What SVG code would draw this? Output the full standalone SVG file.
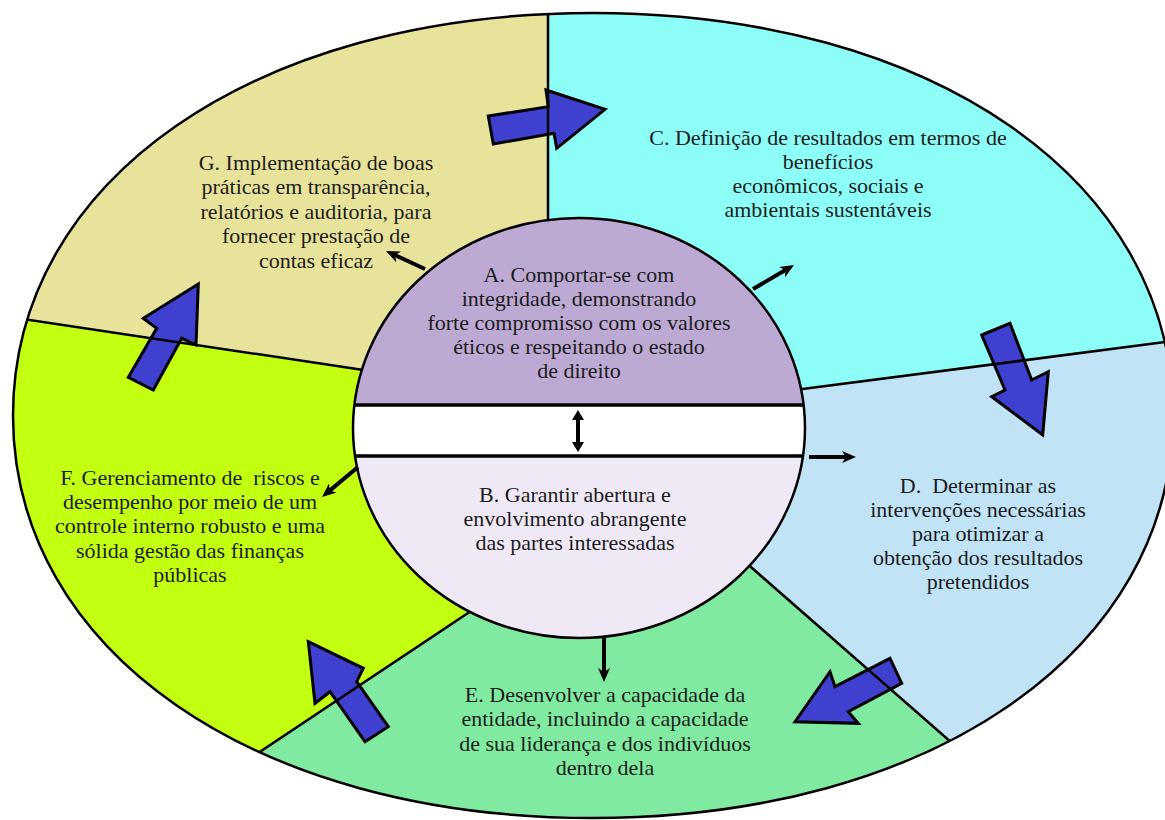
<svg xmlns="http://www.w3.org/2000/svg" width="1165" height="820" viewBox="0 0 1165 820">
<style>
.t{font-family:'Liberation Serif','Tinos','Times New Roman','DejaVu Serif',serif;font-size:22px;fill:#1c1c1c;text-anchor:middle}
.div{stroke:#000;stroke-width:2.5;fill:none}
.blk{fill:#4040d0;stroke:#000;stroke-width:3;stroke-linejoin:miter}
.sm{stroke:#000;stroke-width:4;fill:none}
</style>
<defs>
<clipPath id="outer"><path d="M1173,415.5 C1173,650.6 931.7,818 593,818 C254.3,818 13,650.6 13,415.5 C13,180.4 254.3,13 593,13 C931.7,13 1173,180.4 1173,415.5 Z"/></clipPath>
<clipPath id="inner"><ellipse cx="579" cy="428" rx="226" ry="210"/></clipPath>
<marker id="head" viewBox="0 0 14 12" refX="4" refY="6" markerWidth="14" markerHeight="12" markerUnits="userSpaceOnUse" orient="auto-start-reverse"><path d="M0,0 L14,6 L0,12 L4,6 Z" fill="#000"/></marker>
<marker id="head2" viewBox="0 0 12 12" refX="3" refY="6" markerWidth="12" markerHeight="12" markerUnits="userSpaceOnUse" orient="auto-start-reverse"><path d="M0,0 L10,6 L0,12 Z" fill="#000"/></marker>
</defs>
<rect width="1165" height="820" fill="#fff"/>
<g clip-path="url(#outer)">
<g id="node-G"><polygon points="0,0 548,0 548,400 400,375.5 0,315.5" fill="#e8e39b"/></g>
<g id="node-C"><polygon points="548,0 1200,0 1200,337.5 760,394.6 548,400" fill="#8dfdf8"/></g>
<g id="node-D"><polygon points="760,394.6 1200,337.5 1200,880 1108.6,880 720,540" fill="#c0e3f5"/></g>
<g id="node-E"><polygon points="720,540 1108.6,880 68,880 510,585" fill="#80eba0"/></g>
<g id="node-F"><polygon points="0,315.5 400,375.5 510,585 68,880 0,880" fill="#c3ff10"/></g>
</g>
<g id="texts-outer" font-family="Liberation Serif, serif">
<text class="t" x="316" y="170">G. Implementação de boas</text>
<text class="t" x="316" y="194">práticas em transparência,</text>
<text class="t" x="316" y="219">relatórios e auditoria, para</text>
<text class="t" x="316" y="243">fornecer prestação de</text>
<text class="t" x="316" y="268">contas eficaz</text>
<text class="t" x="828" y="145">C. Definição de resultados em termos de</text>
<text class="t" x="828" y="169">benefícios</text>
<text class="t" x="828" y="193">econômicos, sociais e</text>
<text class="t" x="828" y="217">ambientais sustentáveis</text>
<text class="t" x="978" y="493" xml:space="preserve">D.  Determinar as</text>
<text class="t" x="978" y="517">intervenções necessárias</text>
<text class="t" x="978" y="541">para otimizar a</text>
<text class="t" x="978" y="565">obtenção dos resultados</text>
<text class="t" x="978" y="589">pretendidos</text>
<text class="t" x="605" y="702">E. Desenvolver a capacidade da</text>
<text class="t" x="605" y="726">entidade, incluindo a capacidade</text>
<text class="t" x="605" y="751">de sua liderança e dos indivíduos</text>
<text class="t" x="605" y="775">dentro dela</text>
<text class="t" x="190" y="485" xml:space="preserve">F. Gerenciamento de  riscos e</text>
<text class="t" x="190" y="509">desempenho por meio de um</text>
<text class="t" x="190" y="533">controle interno robusto e uma</text>
<text class="t" x="190" y="558">sólida gestão das finanças</text>
<text class="t" x="190" y="582">públicas</text>
</g>
<g id="connectors">
<polygon class="blk" points="488.3,116 548.3,106.7 546,90 605,109.3 556.7,148.3 554,133.3 493.3,144"/>
<polygon class="blk" points="981.7,335 1010,323.3 1031.7,380 1048.3,371.7 1042.7,435 991.7,396.7 1005,390"/>
<polygon class="blk" points="890,658.3 901.7,683.3 848.3,711.7 858.3,723.3 795,721.7 830,671.7 835,686.7"/>
<polygon class="blk" points="308.3,641.7 363.3,668.3 356.7,681.7 388.3,726.7 365,741.7 330,691.7 315,703.3"/>
<polygon class="blk" points="198.3,284 196,345 181.7,338.3 153.3,390 128.3,377.3 156.7,328.3 143.3,318.3"/>
</g>
<g id="dividers" clip-path="url(#outer)">
<line class="div" x1="548" y1="0" x2="548" y2="400"/>
<line class="div" x1="0" y1="315.5" x2="400" y2="375.5"/>
<line class="div" x1="760" y1="394.6" x2="1200" y2="337.5"/>
<line class="div" x1="720" y1="540" x2="1108.6" y2="880"/>
<line class="div" x1="510" y1="585" x2="68" y2="880"/>
</g>
<path class="div" d="M1173,415.5 C1173,650.6 931.7,818 593,818 C254.3,818 13,650.6 13,415.5 C13,180.4 254.3,13 593,13 C931.7,13 1173,180.4 1173,415.5 Z"/>
<g id="node-A">
<ellipse cx="579" cy="428" rx="226" ry="210" fill="#bcaad4"/>
<text class="t" x="579" y="282">A. Comportar-se com</text>
<text class="t" x="579" y="306">integridade, demonstrando</text>
<text class="t" x="579" y="330">forte compromisso com os valores</text>
<text class="t" x="579" y="354">éticos e respeitando o estado</text>
<text class="t" x="579" y="378">de direito</text>
</g>
<g id="node-band" clip-path="url(#inner)">
<rect x="340" y="405" width="480" height="51" fill="#fff"/>
</g>
<g id="node-B">
<rect x="340" y="456" width="480" height="200" fill="#efe9f6" clip-path="url(#inner)"/>
<text class="t" x="575" y="502">B. Garantir abertura e</text>
<text class="t" x="575" y="526">envolvimento abrangente</text>
<text class="t" x="575" y="550">das partes interessadas</text>
</g>
<g clip-path="url(#inner)">
<line x1="340" y1="405" x2="820" y2="405" stroke="#000" stroke-width="3.5"/>
<line x1="340" y1="456" x2="820" y2="456" stroke="#000" stroke-width="3.5"/>
</g>
<ellipse cx="579" cy="428" rx="226" ry="210" fill="none" stroke="#000" stroke-width="2.5"/>
<g id="connectors-small">
<line class="sm" x1="425" y1="269" x2="395.1" y2="255.2" marker-end="url(#head)"/>
<line class="sm" x1="753" y1="289" x2="785.4" y2="270.1" marker-end="url(#head)"/>
<line class="sm" x1="809" y1="457" x2="846" y2="457" marker-end="url(#head)"/>
<line class="sm" x1="604" y1="638" x2="604" y2="672" marker-end="url(#head)"/>
<line class="sm" x1="358" y1="467" x2="329.7" y2="490.6" marker-end="url(#head)"/>
<line class="sm" x1="578" y1="417" x2="578" y2="445" marker-start="url(#head2)" marker-end="url(#head2)"/>
</g>
</svg>
